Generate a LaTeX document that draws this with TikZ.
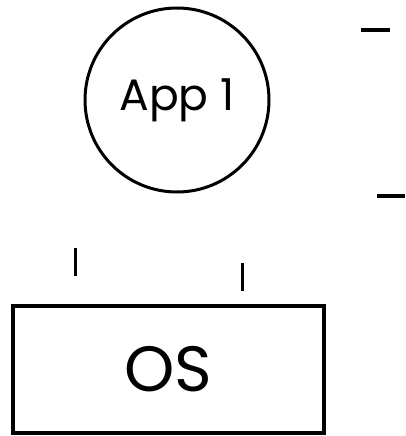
\documentclass[tikz,border=0pt]{standalone}
\usepackage{fontspec}
\setmainfont{Poppins}
\begin{document}
\begin{tikzpicture}[x=1pt,y=-1pt,
  appcircle/.style={circle,draw,line width=3pt,minimum size=184pt,inner sep=0pt},
  osbox/.style={draw,line width=3.5pt,minimum width=311pt,minimum height=127pt,inner sep=0pt},
  mark line/.style={line width=3.5pt}]
  \useasboundingbox (0,0) rectangle (406,436);
  \node[appcircle] (app) at (177,100) {\fontsize{44}{48}\selectfont App 1};
  \node[osbox] (os) at (168.5,369.5) {\fontsize{64}{70}\selectfont OS};
  % short strokes beside and above the boxes
  \coordinate (d1a) at (361,30);  \coordinate (d1b) at (390,30);
  \coordinate (d2a) at (377,196); \coordinate (d2b) at (405,196);
  \coordinate (t1a) at (75,248);  \coordinate (t1b) at (75,276);
  \coordinate (t2a) at (242,263); \coordinate (t2b) at (242,291);
  \draw[mark line] (d1a) -- (d1b);
  \draw[mark line] (d2a) -- (d2b);
  \draw[line width=3pt] (t1a) -- (t1b);
  \draw[line width=3pt] (t2a) -- (t2b);
\end{tikzpicture}
\end{document}
